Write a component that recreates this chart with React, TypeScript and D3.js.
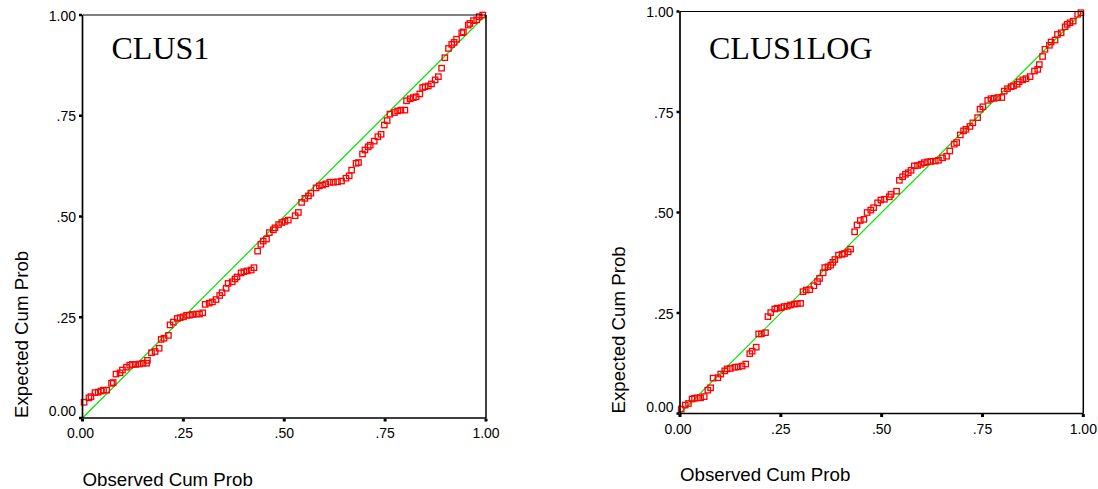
import React from "react";
import * as d3 from "d3";

const tickValues = [0, 0.25, 0.5, 0.75, 1];
const tickLabels = ["0.00", ".25", ".50", ".75", "1.00"];
const titles = ["CLUS1", "CLUS1LOG"];
const xTitle = "Observed Cum Prob";
const yTitle = "Expected Cum Prob";

const clus1Observed = [
  0.004, 0.016, 0.021, 0.031, 0.039, 0.046, 0.052, 0.06, 0.072, 0.076, 0.083, 0.093, 0.099, 0.109, 0.117, 0.124,
  0.132, 0.141, 0.15, 0.159, 0.161, 0.171, 0.18, 0.19, 0.195, 0.202, 0.213, 0.217, 0.225, 0.235, 0.242, 0.25, 0.258,
  0.265, 0.273, 0.282, 0.29, 0.298, 0.304, 0.314, 0.322, 0.331, 0.34, 0.346, 0.356, 0.361, 0.371, 0.378, 0.383,
  0.393, 0.4, 0.408, 0.418, 0.425, 0.434, 0.442, 0.448, 0.456, 0.463, 0.473, 0.477, 0.486, 0.494, 0.502, 0.51,
  0.527, 0.535, 0.543, 0.551, 0.56, 0.566, 0.579, 0.587, 0.595, 0.603, 0.613, 0.622, 0.632, 0.642, 0.653, 0.661,
  0.667, 0.678, 0.684, 0.694, 0.7, 0.708, 0.713, 0.723, 0.732, 0.74, 0.748, 0.755, 0.762, 0.773, 0.781, 0.789,
  0.799, 0.803, 0.812, 0.82, 0.827, 0.836, 0.843, 0.849, 0.857, 0.865, 0.874, 0.882, 0.89, 0.898, 0.907, 0.915,
  0.921, 0.927, 0.94, 0.944, 0.956, 0.96, 0.969, 0.977, 0.983, 0.992,
];
const clus1Expected = [
  0.039, 0.05, 0.053, 0.063, 0.064, 0.067, 0.069, 0.069, 0.086, 0.088, 0.109, 0.112, 0.119, 0.126, 0.131, 0.133,
  0.133, 0.134, 0.136, 0.136, 0.143, 0.162, 0.165, 0.173, 0.195, 0.198, 0.205, 0.231, 0.238, 0.247, 0.249, 0.251,
  0.255, 0.255, 0.257, 0.258, 0.258, 0.261, 0.282, 0.285, 0.288, 0.294, 0.304, 0.311, 0.322, 0.334, 0.338, 0.345,
  0.35, 0.36, 0.363, 0.365, 0.367, 0.373, 0.414, 0.431, 0.439, 0.444, 0.46, 0.467, 0.472, 0.48, 0.485, 0.488, 0.491,
  0.502, 0.51, 0.535, 0.545, 0.551, 0.558, 0.571, 0.576, 0.578, 0.581, 0.585, 0.585, 0.586, 0.588, 0.595, 0.601,
  0.615, 0.632, 0.634, 0.655, 0.665, 0.673, 0.677, 0.687, 0.698, 0.704, 0.727, 0.738, 0.754, 0.758, 0.762, 0.764,
  0.764, 0.787, 0.792, 0.795, 0.797, 0.804, 0.82, 0.822, 0.824, 0.829, 0.839, 0.847, 0.868, 0.894, 0.917, 0.927,
  0.932, 0.94, 0.956, 0.958, 0.975, 0.979, 0.986, 0.988, 0.996, 1.0,
];
const clus1logObserved = [
  0.003, 0.013, 0.021, 0.03, 0.036, 0.043, 0.051, 0.06, 0.069, 0.076, 0.082, 0.094, 0.101, 0.111, 0.117, 0.125,
  0.136, 0.144, 0.154, 0.163, 0.173, 0.179, 0.189, 0.195, 0.202, 0.212, 0.218, 0.225, 0.235, 0.241, 0.251, 0.258,
  0.266, 0.274, 0.283, 0.291, 0.299, 0.305, 0.313, 0.322, 0.332, 0.341, 0.346, 0.355, 0.359, 0.367, 0.374, 0.379,
  0.384, 0.393, 0.402, 0.408, 0.417, 0.423, 0.433, 0.439, 0.447, 0.456, 0.464, 0.473, 0.48,
  0.49, 0.498, 0.507, 0.519, 0.523, 0.537, 0.544, 0.552, 0.559, 0.566, 0.573, 0.581, 0.589, 0.598, 0.606, 0.614,
  0.622, 0.633, 0.641, 0.651, 0.661, 0.669, 0.68, 0.686, 0.695, 0.703, 0.709, 0.719, 0.726, 0.738, 0.744, 0.751,
  0.763, 0.771, 0.779, 0.788, 0.798, 0.804, 0.812, 0.821, 0.827, 0.836, 0.841, 0.85, 0.858, 0.868, 0.879, 0.887,
  0.891, 0.899, 0.905, 0.916, 0.92, 0.93, 0.936, 0.945, 0.955, 0.96, 0.967, 0.975, 0.986, 0.994,
];
const clus1logExpected = [
  0.011, 0.021, 0.025, 0.036, 0.038, 0.039, 0.039, 0.042, 0.058, 0.064, 0.088, 0.089, 0.098, 0.106, 0.111, 0.112,
  0.115, 0.116, 0.118, 0.123, 0.149, 0.155, 0.165, 0.198, 0.198, 0.201, 0.241, 0.251, 0.26, 0.262, 0.263, 0.266,
  0.267, 0.27, 0.272, 0.273, 0.274, 0.303, 0.307, 0.308, 0.318, 0.328, 0.336, 0.35, 0.363, 0.365, 0.369, 0.376,
  0.383, 0.394, 0.396, 0.398, 0.402, 0.409, 0.452, 0.469, 0.48, 0.483, 0.5, 0.506, 0.512,
  0.524, 0.531, 0.533, 0.539, 0.545, 0.553, 0.58, 0.589, 0.595, 0.599, 0.605, 0.616, 0.617, 0.62, 0.624, 0.626,
  0.627, 0.628, 0.63, 0.636, 0.64, 0.653, 0.67, 0.674, 0.693, 0.703, 0.707, 0.714, 0.723, 0.736, 0.757, 0.763,
  0.779, 0.783, 0.784, 0.786, 0.786, 0.802, 0.808, 0.813, 0.815, 0.819, 0.825, 0.83, 0.833, 0.838, 0.852, 0.856,
  0.868, 0.888, 0.906, 0.916, 0.924, 0.929, 0.943, 0.947, 0.962, 0.968, 0.972, 0.976, 0.993, 0.997,
];

const SANS = "'Liberation Sans', Arial, Helvetica, sans-serif";
const SERIF = "'Liberation Serif', 'Times New Roman', serif";

type PanelProps = {
  left: number;
  top: number;
  right: number;
  bottom: number;
  title: string;
  obs: number[];
  exp: number[];
};

function Panel({ left, top, right, bottom, title, obs, exp }: PanelProps) {
  const x = d3.scaleLinear().domain([0, 1]).range([left, right]);
  const y = d3.scaleLinear().domain([0, 1]).range([bottom, top]);
  const pts = obs.map((o, i) => [o, exp[i]] as [number, number]);
  const diag = d3.line<[number, number]>().x((d) => x(d[0])).y((d) => y(d[1]))([
    [0, 0],
    [1, 1],
  ]);
  const s = 5.4;
  return (
    <g>
      <path d={diag || ""} stroke="#00e600" strokeWidth={1.2} fill="none" />
      {pts.map((p, i) => (
        <rect
          key={i}
          x={x(p[0]) - s / 2}
          y={y(p[1]) - s / 2}
          width={s}
          height={s}
          fill="none"
          stroke="#ff0000"
          strokeWidth={1.3}
        />
      ))}
      {/* frame */}
      <line x1={left} x2={right} y1={top} y2={top} stroke="#000" strokeWidth={1.2} />
      <line x1={right} x2={right} y1={top} y2={bottom} stroke="#000" strokeWidth={1.5} />
      <line x1={left} x2={left} y1={top} y2={bottom} stroke="#000" strokeWidth={1.7} />
      <line x1={left} x2={right} y1={bottom} y2={bottom} stroke="#000" strokeWidth={1.7} />
      {/* y ticks */}
      {tickValues.map((t, i) => (
        <g key={"y" + i}>
          <rect x={left - 3.5} y={y(t) - 1.25} width={3} height={2.5} fill="#000" />
          <text
            x={left - 6.5}
            y={t === 0 ? y(t) - 2 : y(t) + 5.5}
            textAnchor="end"
            fontFamily={SANS}
            fontSize={14}
            fill="#000"
          >
            {tickLabels[i]}
          </text>
        </g>
      ))}
      {/* x ticks */}
      {tickValues.map((t, i) => (
        <g key={"x" + i}>
          <rect x={x(t) - 1.5} y={bottom + 0.5} width={3} height={3} fill="#000" />
          <text x={x(t) - (t === 0 ? 2 : 0)} y={bottom + 20} textAnchor="middle" fontFamily={SANS} fontSize={14} fill="#000">
            {tickLabels[i]}
          </text>
        </g>
      ))}
      <text x={left + 29} y={59} fontFamily={SERIF} fontSize={32} fill="#000">
        {title}
      </text>
      <text x={left} y={bottom + 67.5} fontFamily={SANS} fontSize={18.7} fill="#000">
        {xTitle}
      </text>
      <text
        transform={`translate(${left - 55},${bottom}) rotate(-90)`}
        fontFamily={SANS}
        fontSize={18.7}
        fill="#000"
      >
        {yTitle}
      </text>
    </g>
  );
}

export default function App() {
  return (
    <svg
      width={1098}
      height={489}
      style={{ position: "absolute", left: 0, top: 0, background: "#fff" }}
    >
      <rect x={0} y={0} width={1098} height={489} fill="#fff" />
      <Panel left={82.5} top={15} right={486} bottom={418} title={titles[0]} obs={clus1Observed} exp={clus1Expected} />
      <Panel
        left={680}
        top={11.5}
        right={1083.3}
        bottom={413.5}
        title={titles[1]}
        obs={clus1logObserved}
        exp={clus1logExpected}
      />
    </svg>
  );
}
